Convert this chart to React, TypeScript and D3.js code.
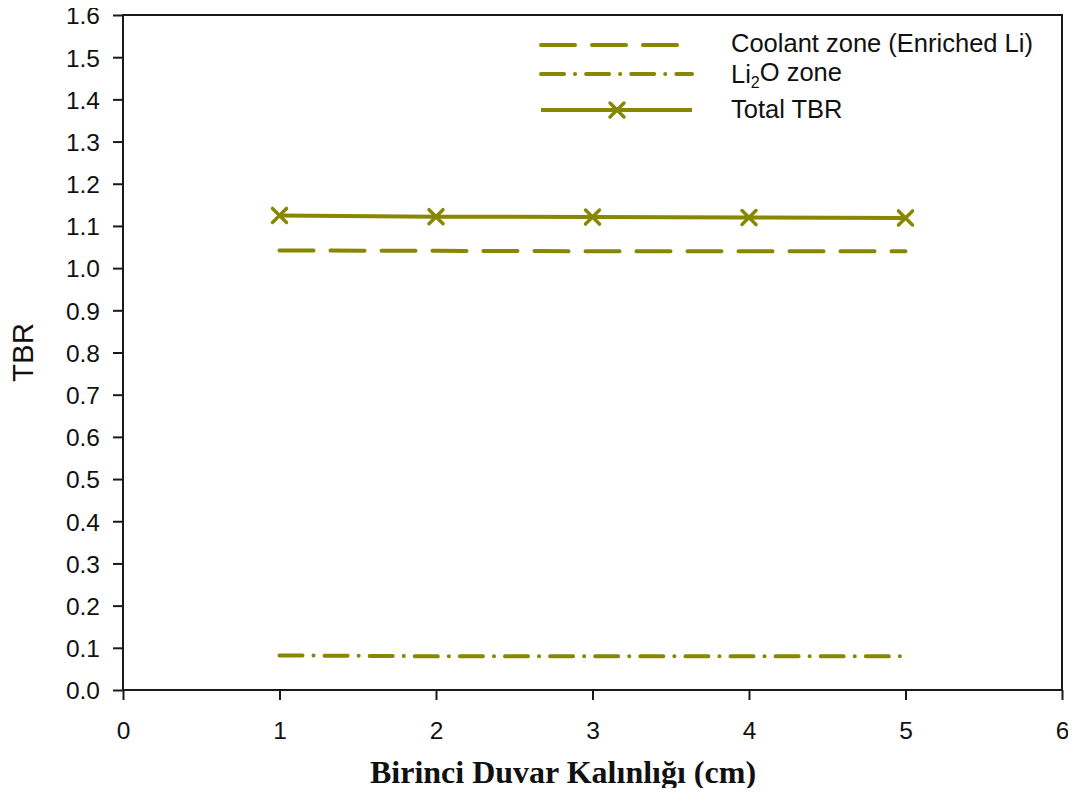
import { useEffect, useRef } from "react";
import * as d3 from "d3";

const thickness = [1, 2, 3, 4, 5];
const coolantTBR = [1.042, 1.041, 1.040, 1.040, 1.040];
const li2oTBR = [0.082, 0.080, 0.080, 0.080, 0.080];
const totalTBR = [1.125, 1.122, 1.121, 1.120, 1.119];
const xTicks = [0, 1, 2, 3, 4, 5, 6];
const yTicks = d3.range(0, 17).map(i => i / 10);

const OLIVE = "#878700";

export default function App() {
  const svgRef = useRef<SVGSVGElement>(null);

  useEffect(() => {
    if (!svgRef.current) return;
    const width = 1076;
    const height = 796;
    const margin = { top: 15, right: 14, bottom: 106, left: 123 };

    const svg = d3.select(svgRef.current);
    svg.selectAll("*").remove();
    svg.attr("viewBox", `0 0 ${width} ${height}`);

    const x = d3.scaleLinear().domain([0, 6]).range([margin.left, width - margin.right]);
    const y = d3.scaleLinear().domain([0, 1.6]).range([height - margin.bottom, margin.top]);

    const font = "Liberation Sans, Arial, sans-serif";

    // frame
    svg.append("rect")
      .attr("x", x(0)).attr("y", y(1.6))
      .attr("width", x(6) - x(0)).attr("height", y(0) - y(1.6))
      .attr("fill", "none").attr("stroke", "#1a1a1a").attr("stroke-width", 2);

    const xAxis = svg.append("g")
      .attr("transform", `translate(0,${y(0)})`)
      .call(d3.axisBottom(x).tickValues(xTicks).tickFormat(d3.format("d")).tickSize(10));
    const yAxis = svg.append("g")
      .attr("transform", `translate(${x(0)},0)`)
      .call(d3.axisLeft(y).tickValues(yTicks).tickFormat(d3.format(".1f")).tickSize(10).tickPadding(13));

    [xAxis, yAxis].forEach(a => {
      a.select(".domain").remove();
      a.selectAll(".tick line").attr("stroke", "#1a1a1a").attr("stroke-width", 2);
      a.selectAll(".tick text")
        .attr("fill", "#111")
        .style("font-family", font)
        .style("font-size", "24.5px");
    });
    yAxis.selectAll(".tick text").attr("dy", "0.36em");
    xAxis.selectAll(".tick text").attr("y", 49).attr("dy", 0);

    const line = d3.line<number>()
      .x((_, i) => x(thickness[i]))
      .y(d => y(d));

    const series = [
      { vals: coolantTBR, dash: "34,17" },
      { vals: li2oTBR, dash: "23,11,0.1,11" },
      { vals: totalTBR, dash: null as string | null },
    ];

    series.forEach(s => {
      svg.append("path")
        .datum(s.vals)
        .attr("d", line)
        .attr("fill", "none")
        .attr("stroke", OLIVE)
        .attr("stroke-width", 4)
        .attr("stroke-linecap", s.dash ? "round" : "butt")
        .attr("stroke-dasharray", s.dash);
    });

    const cross = (g: any, cx: number, cy: number) => {
      const r = 7;
      g.append("path")
        .attr("d", `M${cx - r},${cy - r}L${cx + r},${cy + r}M${cx - r},${cy + r}L${cx + r},${cy - r}`)
        .attr("stroke", OLIVE)
        .attr("stroke-width", 3.5)
        .attr("stroke-linecap", "round");
    };

    const markers = svg.append("g");
    totalTBR.forEach((v, i) => cross(markers, x(thickness[i]), y(v)));

    // legend
    const legend = svg.append("g");
    const rows = [
      { label: "Coolant zone (Enriched Li)", dash: "34,17", marker: false, yy: 45, ty: 43 },
      { label: "Li2O zone", dash: "23,11,0.1,11", marker: false, yy: 74, ty: 74 },
      { label: "Total TBR", dash: null as string | null, marker: true, yy: 110, ty: 109 },
    ];
    rows.forEach(r => {
      legend.append("line")
        .attr("x1", 541).attr("x2", 692)
        .attr("y1", r.yy).attr("y2", r.yy)
        .attr("stroke", OLIVE)
        .attr("stroke-width", 4)
        .attr("stroke-linecap", r.dash ? "round" : "butt")
        .attr("stroke-dasharray", r.dash);
      if (r.marker) cross(legend, 617, r.yy);
      const t = legend.append("text")
        .attr("x", 731).attr("y", r.ty)
        .attr("dy", "0.36em")
        .attr("fill", "#111")
        .style("font-family", font)
        .style("font-size", "25.5px");
      if (r.label === "Li2O zone") {
        t.append("tspan").text("Li");
        t.append("tspan").text("2").attr("dy", "0.28em").style("font-size", "16px");
        t.append("tspan").text("O zone").attr("dy", "-0.28em");
      } else {
        t.text(r.label);
      }
    });

    // axis titles
    svg.append("text")
      .attr("x", 563)
      .attr("y", 783)
      .attr("text-anchor", "middle")
      .attr("fill", "#111")
      .style("font-family", "Liberation Serif, Times New Roman, serif")
      .style("font-weight", "bold")
      .style("font-size", "32px")
      .text("Birinci Duvar Kalınlığı (cm)");

    svg.append("text")
      .attr("transform", `translate(33,${(y(0) + y(1.6)) / 2}) rotate(-90)`)
      .attr("text-anchor", "middle")
      .attr("fill", "#111")
      .style("font-family", font)
      .style("font-size", "29.5px")
      .text("TBR");
  }, []);

  return (
    <div style={{ margin: -8 }}>
      <svg ref={svgRef} width={1076} height={796} style={{ display: "block" }} />
    </div>
  );
}
